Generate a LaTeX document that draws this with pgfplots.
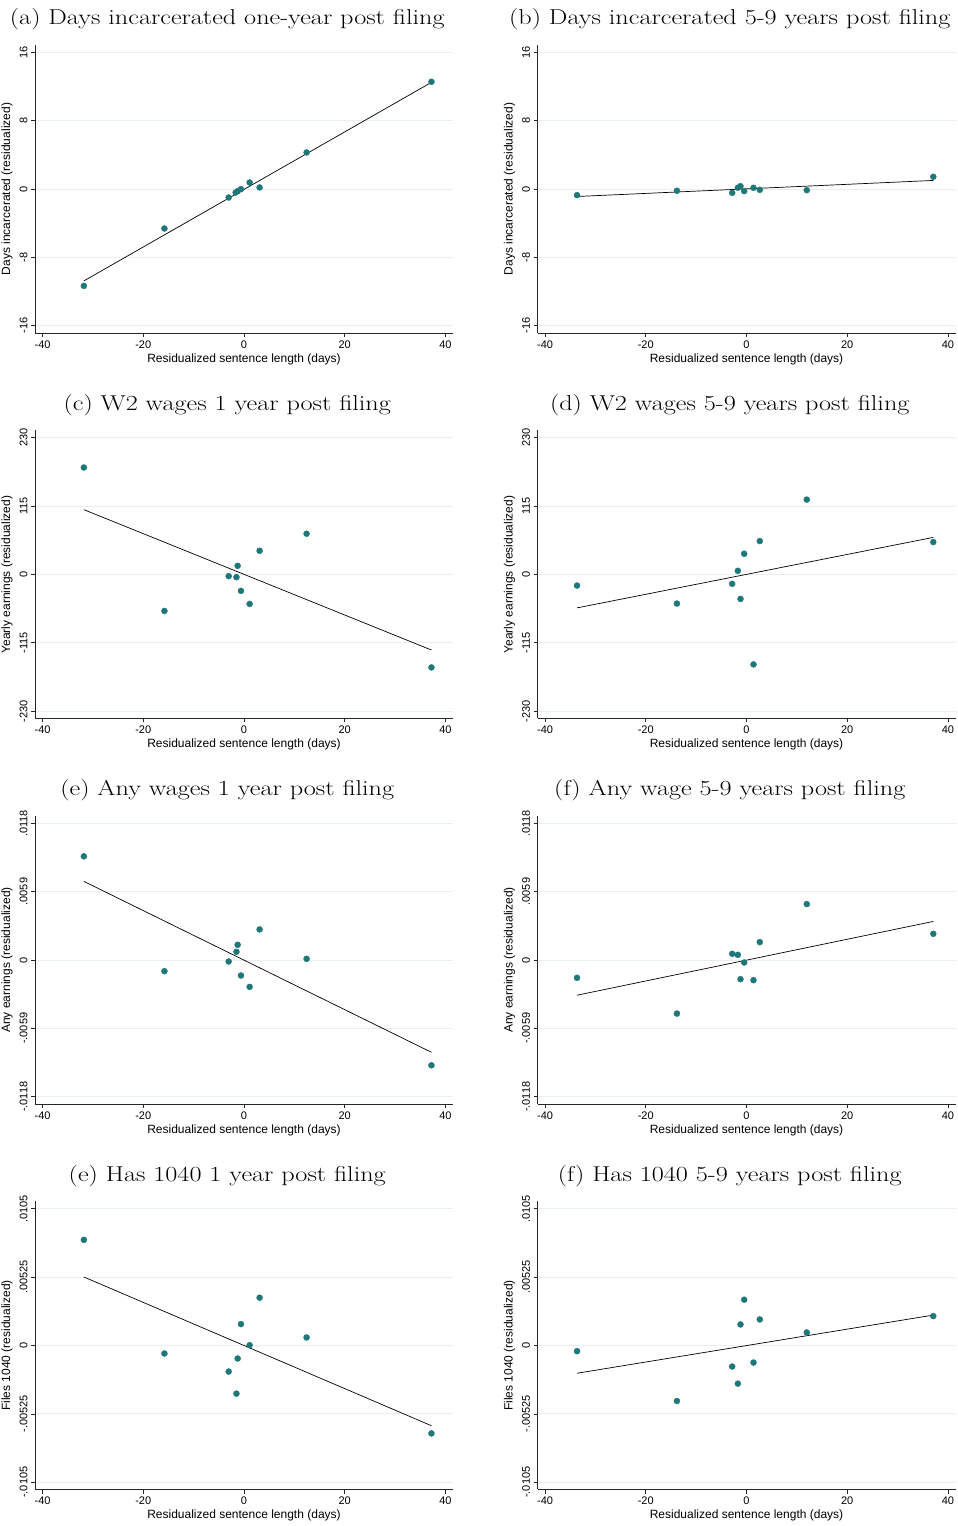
\documentclass[border=0pt]{standalone}
\usepackage{fontspec}
\newfontfamily\arial{Liberation Sans}
\usepackage{graphicx}
\usepackage{pgfplots}
\usepackage{pgfplotstable}
\pgfplotsset{compat=1.18}
\definecolor{teal1}{RGB}{30,120,120}
\definecolor{gridc}{RGB}{230,239,241}
\newcommand\ttl[1]{\scalebox{1.22}[1]{#1}}

\pgfplotstableread{
x y
-31.8 -11.35
-15.8 -4.63
-3.04 -1.00
-1.65 -0.41
-1.26 -0.25
-0.60 -0.02
1.12 0.76
3.10 0.18
12.43 4.28
37.22 12.56
}\tA
\pgfplotstableread{
x y
-33.65 -0.72
-13.82 -0.21
-2.84 -0.45
-1.72 0.14
-1.19 0.33
-0.46 -0.25
1.39 0.14
2.64 -0.10
11.97 -0.14
37.09 1.43
}\tB
\pgfplotstableread{
x y
-31.8 180.0
-15.8 -61.3
-3.04 -2.8
-1.5 -4.5
-1.26 14.6
-0.60 -27.6
1.12 -49.5
3.10 39.9
12.43 68.6
37.22 -156.4
}\tC
\pgfplotstableread{
x y
-33.65 -18.6
-13.82 -48.9
-2.84 -15.7
-1.72 6.2
-1.19 -41.1
-0.46 34.9
1.39 -151.3
2.64 56.2
11.97 126.0
37.09 54.6
}\tD
\pgfplotstableread{
x y
-31.8 0.008947
-15.8 -0.000965
-3.04 -0.00013
-1.5 0.000706
-1.26 0.001311
-0.60 -0.00134
1.12 -0.00232
3.10 0.002637
12.43 0.0001
37.22 -0.00909
}\tE
\pgfplotstableread{
x y
-33.65 -0.00154
-13.82 -0.004625
-2.84 0.000533
-1.72 0.000447
-1.19 -0.001657
-0.46 -0.000216
1.39 -0.001743
2.64 0.001542
11.97 0.004827
37.09 0.002262
}\tF
\pgfplotstableread{
x y
-31.8 0.008113
-15.8 -0.000616
-3.04 -0.002002
-1.5 -0.003697
-1.26 -0.001001
-0.60 0.001643
1.12 0.0000257
3.10 0.003671
12.43 0.000616
37.22 -0.006752
}\tG
\pgfplotstableread{
x y
-33.65 -0.000436
-13.82 -0.004262
-2.84 -0.001617
-1.72 -0.002927
-1.19 0.001617
-0.46 0.003517
1.39 -0.001309
2.64 0.002002
11.97 0.001001
37.09 0.002259
}\tH

\pgfplotsset{
 panel/.style={
  scale only axis, width=418pt, height=288pt,
  anchor=south west,
  xmin=-41.5, xmax=41.5,
  scaled y ticks=false, scaled x ticks=false,
  axis lines=left, axis line style={-, line width=0.9pt, black!85},
  tick align=outside, major tick length=4pt,
  tick style={black!85, line width=0.7pt},
  xtick={-40,-20,0,20,40}, xticklabels={-40,-20,0,20,40},
  ymajorgrids, grid style={gridc, line width=0.8pt},
  tick label style={font=\arial\fontsize{11}{13}\selectfont},
  yticklabel style={rotate=90, anchor=south},
  label style={font=\arial\fontsize{12}{14}\selectfont},
  xlabel={Residualized sentence length (days)},
  xlabel style={at={(axis description cs:0.5,-0.09)}, anchor=center},
  ylabel style={at={(axis description cs:-0.067,0.5)}, anchor=center},
  title style={at={(axis description cs:0.46,1)}, anchor=base, yshift=14pt, font=\fontsize{21.5}{24}\selectfont},
  clip=false,
 },
 pts/.style={only marks, mark=*, mark size=3pt, mark options={fill=teal1, draw=teal1}},
 fit/.style={black, line width=0.7pt, no marks},
}

\begin{document}
\begin{tikzpicture}
\useasboundingbox (0,0) rectangle (958pt,1526pt);
% row 1
\begin{axis}[panel, at={(35pt,1193pt)},
  ymin=-16.87, ymax=16.87, ytick={-16,-8,0,8,16}, yticklabels={-16,-8,0,8,16},
  ylabel={Days incarcerated (residualized)},
  title={\ttl{(a) Days incarcerated one-year post filing}}]
\addplot[fit] coordinates {(-31.8,-10.77) (37.22,12.49)};
\addplot[pts] table[x=x,y=y]{\tA};
\end{axis}
\begin{axis}[panel, at={(537.5pt,1193pt)},
  ymin=-16.87, ymax=16.87, ytick={-16,-8,0,8,16}, yticklabels={-16,-8,0,8,16},
  ylabel={Days incarcerated (residualized)},
  title={\ttl{(b) Days incarcerated 5-9 years post filing}}]
\addplot[fit] coordinates {(-33.65,-0.88) (37.09,1.0)};
\addplot[pts] table[x=x,y=y]{\tB};
\end{axis}
% row 2
\begin{axis}[panel, at={(35pt,807.5pt)},
  ymin=-242.3, ymax=242.3, ytick={-230,-115,0,115,230}, yticklabels={-230,-115,0,115,230},
  ylabel={Yearly earnings (residualized)},
  title={\ttl{(c) W2 wages 1 year post filing}}]
\addplot[fit] coordinates {(-31.8,109.1) (37.22,-127.1)};
\addplot[pts] table[x=x,y=y]{\tC};
\end{axis}
\begin{axis}[panel, at={(537.5pt,807.5pt)},
  ymin=-242.3, ymax=242.3, ytick={-230,-115,0,115,230}, yticklabels={-230,-115,0,115,230},
  ylabel={Yearly earnings (residualized)},
  title={\ttl{(d) W2 wages 5-9 years post filing}}]
\addplot[fit] coordinates {(-33.65,-56.2) (37.09,62.4)};
\addplot[pts] table[x=x,y=y]{\tD};
\end{axis}
% row 3
\begin{axis}[panel, at={(35pt,422pt)},
  ymin=-0.01243, ymax=0.01243, ytick={-0.0118,-0.0059,0,0.0059,0.0118}, yticklabels={-.0118,-.0059,0,.0059,.0118},
  ylabel={Any earnings (residualized)},
  title={\ttl{(e) Any wages 1 year post filing}}]
\addplot[fit] coordinates {(-31.8,0.006786) (37.22,-0.007968)};
\addplot[pts] table[x=x,y=y]{\tE};
\end{axis}
\begin{axis}[panel, at={(537.5pt,422pt)},
  ymin=-0.01243, ymax=0.01243, ytick={-0.0118,-0.0059,0,0.0059,0.0118}, yticklabels={-.0118,-.0059,0,.0059,.0118},
  ylabel={Any earnings (residualized)},
  title={\ttl{(f) Any wage 5-9 years post filing}}]
\addplot[fit] coordinates {(-33.65,-0.00304) (37.09,0.003328)};
\addplot[pts] table[x=x,y=y]{\tF};
\end{axis}
% row 4
\begin{axis}[panel, at={(35pt,36.5pt)},
  ymin=-0.01106, ymax=0.01106, ytick={-0.0105,-0.00525,0,0.00525,0.0105}, yticklabels={-.0105,-.00525,0,.00525,.0105},
  ylabel={Files 1040 (residualized)},
  title={\ttl{(e) Has 1040 1 year post filing}}]
\addplot[fit] coordinates {(-31.8,0.005263) (37.22,-0.006161)};
\addplot[pts] table[x=x,y=y]{\tG};
\end{axis}
\begin{axis}[panel, at={(537.5pt,36.5pt)},
  ymin=-0.01106, ymax=0.01106, ytick={-0.0105,-0.00525,0,0.00525,0.0105}, yticklabels={-.0105,-.00525,0,.00525,.0105},
  ylabel={Files 1040 (residualized)},
  title={\ttl{(f) Has 1040 5-9 years post filing}}]
\addplot[fit] coordinates {(-33.65,-0.002131) (37.09,0.002336)};
\addplot[pts] table[x=x,y=y]{\tH};
\end{axis}
\end{tikzpicture}
\end{document}
